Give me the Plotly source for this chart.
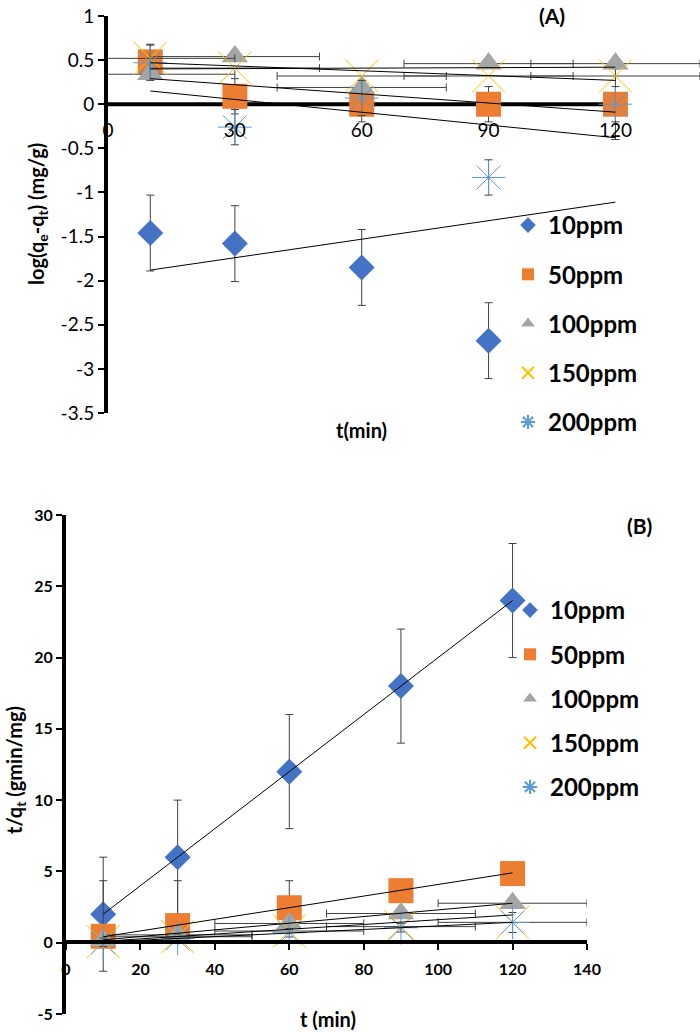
import plotly.graph_objects as go

# ---------------- data ----------------
t = [10, 30, 60, 90, 120]
t_A10 = [10, 30, 60, 90]
names = ["10ppm", "50ppm", "100ppm", "150ppm", "200ppm"]

# (A) pseudo-first-order: log(qe-qt)
A_10 = [-1.46, -1.58, -1.85, -2.68]
A_50 = [0.48, 0.09, 0.0, 0.0, 0.0]
A_100 = [0.34, 0.54, 0.19, 0.46, 0.46]
A_150 = [0.52, 0.41, 0.32, 0.32, 0.32]
A_200 = [0.47, -0.26, 0.07, -0.83, 0.0]
A_yerr_10 = [0.43, 0.43, 0.43, 0.43]
A_yerr_50 = [0.2, 0.2, 0.2, 0.2, 0.4]
A_yerr_200 = [0.2, 0.2, 0.2, 0.2, 0.2]
A_xerr_100 = [20, 20, 20, 20, 20]
A_xerr_150 = [20, 20, 20, 20, 20]

trend_t = [10, 120]
A_trend_10 = [-1.88, -1.11]
A_trend_50 = [0.29, -0.09]
A_trend_100 = [0.40, 0.42]
A_trend_150 = [0.47, 0.27]
A_trend_200 = [0.15, -0.38]

# (B) pseudo-second-order: t/qt
B_10 = [2, 6, 12, 18, 24]
B_50 = [0.45, 1.2, 2.45, 3.65, 4.85]
B_100 = [0.15, 0.55, 1.35, 2.05, 2.77]
B_150 = [0.08, 0.42, 0.82, 1.13, 1.43]
B_200 = [0.03, 0.3, 0.7, 1.05, 1.42]
B_yerr_10 = [4, 4, 4, 4, 4]
B_yerr_50 = [3.9, 3.15, 1.9, 0.7, 0.5]
B_yerr_200 = [0.3, 0.3, 0.3, 0.3, 0.7]
B_xerr_100 = [20, 20, 20, 20, 20]
B_xerr_150 = [20, 20, 20, 20, 20]

B_trend_10 = [2.0, 24.0]
B_trend_50 = [0.42, 4.9]
B_trend_100 = [0.2, 2.77]
B_trend_150 = [0.1, 1.95]
B_trend_200 = [0.05, 1.43]

A_ticks_x = [0, 30, 60, 90, 120]
A_ticks_y = [1, 0.5, 0, -0.5, -1, -1.5, -2, -2.5, -3, -3.5]
B_ticks_x = [0, 20, 40, 60, 80, 100, 120, 140]
B_ticks_y = [30, 25, 20, 15, 10, 5, 0, -5]

# ---------------- styles ----------------
W, H = 700, 1032
FONT = "Lato"
ERRC = "#404040"
styles = {
    "10ppm": dict(symbol="diamond", size=20, color="#4472C4", line=dict(width=0)),
    "50ppm": dict(symbol="square", size=25, color="#ED7D31", line=dict(width=0)),
    "100ppm": dict(symbol="triangle-up", size=23, color="#A5A5A5", line=dict(width=0)),
    "150ppm": dict(symbol="x-thin-open", size=33, color="#FFC000", line=dict(width=1, color="#FFC000")),
    "200ppm": dict(symbol="asterisk-open", size=28, color="#5B9BD5", line=dict(width=1, color="#5B9BD5")),
}


def px_x(p):
    return p / W


def px_y(p):
    return 1 - p / H


def err(arr, plus_only=False):
    d = dict(type="data", array=arr, color=ERRC, thickness=1, width=4, visible=True)
    if plus_only:
        d["symmetric"] = False
        d["arrayminus"] = [0] * len(arr)
    return d


fig = go.Figure()


def add_series(x, y, name, xa, ya, leg, ey=None, ex=None):
    kw = {}
    if ey is not None:
        kw["error_y"] = ey
    if ex is not None:
        kw["error_x"] = ex
    fig.add_trace(go.Scatter(
        x=x, y=y, mode="markers", name=name, marker=styles[name],
        xaxis=xa, yaxis=ya, legend=leg, legendgroup=leg + name,
        cliponaxis=False, **kw))


def add_trend(y, xa, ya):
    fig.add_trace(go.Scatter(
        x=trend_t, y=y, mode="lines", line=dict(color="black", width=1),
        xaxis=xa, yaxis=ya, showlegend=False, hoverinfo="skip"))


# (A)
add_series(t_A10, A_10, "10ppm", "x", "y", "legend", ey=err(A_yerr_10))
add_series(t, A_50, "50ppm", "x", "y", "legend", ey=err(A_yerr_50))
add_series(t, A_100, "100ppm", "x", "y", "legend", ex=err(A_xerr_100))
add_series(t, A_150, "150ppm", "x", "y", "legend", ex=err(A_xerr_150))
add_series(t, A_200, "200ppm", "x", "y", "legend", ey=err(A_yerr_200))
for tr in [A_trend_10, A_trend_50, A_trend_100, A_trend_150, A_trend_200]:
    add_trend(tr, "x", "y")

# (B)
add_series(t, B_10, "10ppm", "x2", "y2", "legend2", ey=err(B_yerr_10))
add_series(t, B_50, "50ppm", "x2", "y2", "legend2", ey=err(B_yerr_50, plus_only=True))
add_series(t, B_100, "100ppm", "x2", "y2", "legend2", ex=err(B_xerr_100))
add_series(t, B_150, "150ppm", "x2", "y2", "legend2", ex=err(B_xerr_150))
add_series(t, B_200, "200ppm", "x2", "y2", "legend2", ey=err(B_yerr_200))
for tr in [B_trend_10, B_trend_50, B_trend_100, B_trend_150, B_trend_200]:
    add_trend(tr, "x2", "y2")

lab = lambda v: ("%g" % v).replace("\u2212", "-")

fig.update_layout(
    width=W, height=H, margin=dict(l=0, r=0, t=0, b=0, pad=0, autoexpand=False),
    paper_bgcolor="white", plot_bgcolor="rgba(0,0,0,0)",
    font=dict(family=FONT, color="black"),
    xaxis=dict(domain=[px_x(108), 1.0], range=[0, 140], anchor="free", position=px_y(105),
               showline=False, showgrid=False, zeroline=False, ticks="", automargin=False,
               tickvals=A_ticks_x, ticktext=[lab(v) for v in A_ticks_x],
               tickfont=dict(family=FONT, size=19), ticklabelstandoff=12),
    yaxis=dict(domain=[px_y(413), px_y(16)], range=[-3.5, 1], anchor="x", automargin=False,
               showline=True, linewidth=4, linecolor="black", showgrid=False, zeroline=False,
               ticks="outside", ticklen=6, tickwidth=2, tickcolor="black",
               tickvals=A_ticks_y, ticktext=[lab(v) for v in A_ticks_y],
               tickfont=dict(family=FONT, size=19)),
    xaxis2=dict(domain=[px_x(66), px_x(587)], range=[0, 140], anchor="free", position=px_y(942),
                showline=True, linewidth=4, linecolor="black", showgrid=False, zeroline=False,
                ticks="outside", ticklen=6, tickwidth=2, tickcolor="black", automargin=False,
                tickvals=B_ticks_x, ticktext=[lab(v) for v in B_ticks_x],
                tickfont=dict(family=FONT, size=16, weight="bold"), ticklabelstandoff=6),
    yaxis2=dict(domain=[px_y(1014), px_y(515)], range=[-5, 30], anchor="x2", automargin=False,
                showline=True, linewidth=4, linecolor="black", showgrid=False, zeroline=False,
                ticks="outside", ticklen=6, tickwidth=2, tickcolor="black",
                tickvals=B_ticks_y, ticktext=[lab(v) for v in B_ticks_y],
                tickfont=dict(family=FONT, size=16, weight="bold")),
    legend=dict(x=px_x(508), y=px_y(203), xanchor="left", yanchor="top",
                font=dict(family=FONT, size=24, weight="bold", color="black"),
                itemsizing="constant", traceorder="grouped", tracegroupgap=15,
                bgcolor="rgba(0,0,0,0)", itemwidth=30),
    legend2=dict(x=px_x(510), y=px_y(588), xanchor="left", yanchor="top",
                 font=dict(family=FONT, size=24, weight="bold", color="black"),
                 itemsizing="constant", traceorder="grouped", tracegroupgap=10,
                 bgcolor="rgba(0,0,0,0)", itemwidth=30),
    shapes=[dict(type="line", xref="x", yref="y", x0=0, x1=120, y0=0, y1=0,
                 line=dict(color="black", width=4), layer="below")],
    annotations=[
        dict(text="<b>(A)</b>", x=px_x(552), y=px_y(15), xref="paper", yref="paper",
             xanchor="center", yanchor="middle", showarrow=False, font=dict(size=21)),
        dict(text="<b>(B)</b>", x=px_x(639), y=px_y(525), xref="paper", yref="paper",
             xanchor="center", yanchor="middle", showarrow=False, font=dict(size=21)),
        dict(text="<b>t(min)</b>", x=px_x(361), y=px_y(430), xref="paper", yref="paper",
             xanchor="center", yanchor="middle", showarrow=False, font=dict(size=20)),
        dict(text="<b>t (min)</b>", x=px_x(328), y=px_y(1019), xref="paper", yref="paper",
             xanchor="center", yanchor="middle", showarrow=False, font=dict(size=20)),
        dict(text="<b>log(q<sub>e</sub>-q<sub>t</sub>) (mg/g)</b>", x=px_x(37), y=px_y(214),
             xref="paper", yref="paper", xanchor="center", yanchor="middle",
             showarrow=False, textangle=-90, font=dict(size=20)),
        dict(text="<b>t/q<sub>t</sub> (gmin/mg)</b>", x=px_x(15), y=px_y(770),
             xref="paper", yref="paper", xanchor="center", yanchor="middle",
             showarrow=False, textangle=-90, font=dict(size=20)),
    ],
)

fig.write_html("out.html", config={"displayModeBar": False},
               post_script="document.body.style.margin='0';document.body.style.padding='0';")
